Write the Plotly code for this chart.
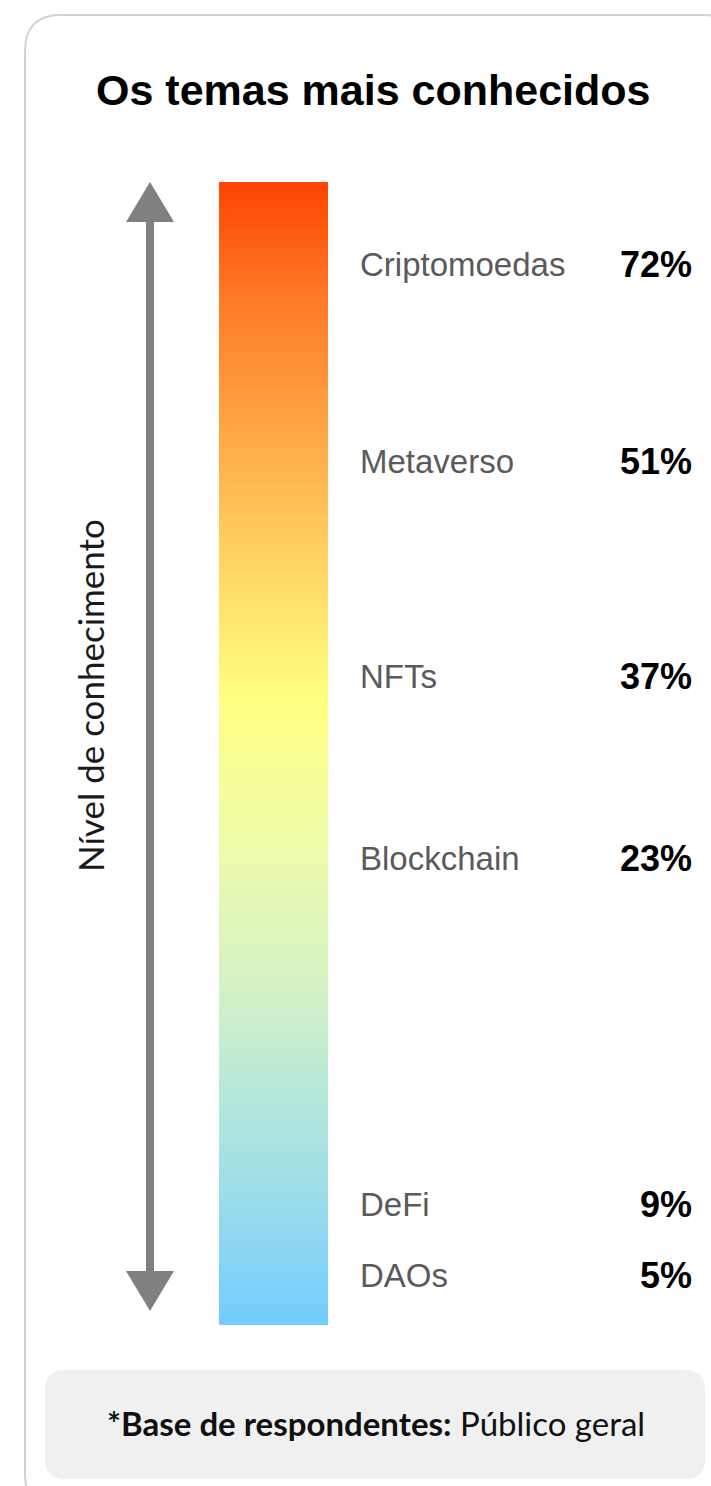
import numpy as np
import plotly.graph_objects as go

# Survey data: awareness of each topic
topics = ["Criptomoedas", "Metaverso", "NFTs", "Blockchain", "DeFi", "DAOs"]
shares = [72, 51, 37, 23, 9, 5]

# Vertical placement of each row (pixels from top)
row_y = [268, 465, 680, 862, 1208, 1279]

W, H = 711, 1486

# Gradient stops for the awareness bar (0 = bottom, 1 = top)
grad_stops = [
    [0.00, "#72CCFF"],
    [0.10, "#98DCEC"],
    [0.20, "#B6E8DA"],
    [0.30, "#D6F2C4"],
    [0.42, "#EEFCAA"],
    [0.55, "#FFFF80"],
    [0.68, "#FFD060"],
    [0.80, "#FFA040"],
    [0.90, "#FF7A25"],
    [1.00, "#FF4500"],
]

bar_x0, bar_x1, bar_y0, bar_y1 = 219, 328, 182, 1325
n = 300
edges = np.linspace(bar_y0, bar_y1, n + 1)
zcol = np.linspace(1, 0, n).reshape(n, 1)

fig = go.Figure()

fig.add_trace(go.Heatmap(
    x=[bar_x0, bar_x1], y=edges, z=zcol,
    colorscale=grad_stops, zmin=0, zmax=1,
    showscale=False, hoverinfo="skip",
))

fig.add_trace(go.Scatter(
    x=[360] * len(topics), y=row_y, text=topics,
    mode="text", textposition="middle right",
    textfont=dict(family="Liberation Sans, Arial, sans-serif", size=33, color="#5A5A5A"),
    hoverinfo="skip",
))

fig.add_trace(go.Scatter(
    x=[692] * len(shares), y=row_y, text=[f"{v}%" for v in shares],
    mode="text", textposition="middle left",
    textfont=dict(family="Liberation Sans, Arial, sans-serif", size=36, color="#000000", weight="bold"),
    hoverinfo="skip",
))


def rounded_rect(x0, y0, x1, y1, r):
    return (f"M {x0+r},{y0} L {x1-r},{y0} Q {x1},{y0} {x1},{y0+r} "
            f"L {x1},{y1-r} Q {x1},{y1} {x1-r},{y1} L {x0+r},{y1} "
            f"Q {x0},{y1} {x0},{y1-r} L {x0},{y0+r} Q {x0},{y0} {x0+r},{y0} Z")


shapes = [
    # card
    dict(type="path", path=rounded_rect(25, 15, 740, 1510, 36),
         line=dict(color="#D2D2D2", width=2), fillcolor="white", layer="below"),
    # footer box
    dict(type="path", path=rounded_rect(45, 1370, 705, 1479, 20),
         line=dict(width=0), fillcolor="#F0F0F0", layer="below"),
    # arrow shaft
    dict(type="rect", x0=146, x1=154, y0=215, y1=1278,
         line=dict(width=0), fillcolor="#808080"),
    # arrow heads
    dict(type="path", path="M 150,182 L 174,222 L 126,222 Z",
         line=dict(width=0), fillcolor="#808080"),
    dict(type="path", path="M 150,1311 L 174,1271 L 126,1271 Z",
         line=dict(width=0), fillcolor="#808080"),
]

annotations = [
    dict(x=373, y=90, text="<b>Os temas mais conhecidos</b>", showarrow=False,
         font=dict(family="Liberation Sans, Arial, sans-serif", size=43, color="#000000"),
         xanchor="center", yanchor="middle"),
    dict(x=90, y=696, text="Nível de conhecimento", showarrow=False, textangle=-90,
         font=dict(family="Lato, Open Sans, sans-serif", size=35, color="#1A1A1A"),
         xanchor="center", yanchor="middle"),
    dict(x=376, y=1423, text="<b>*Base de respondentes:</b> Público geral", showarrow=False,
         font=dict(family="Lato, Open Sans, sans-serif", size=33, color="#111111"),
         xanchor="center", yanchor="middle"),
]

fig.update_layout(
    width=W, height=H,
    margin=dict(l=0, r=0, t=0, b=0),
    paper_bgcolor="white", plot_bgcolor="rgba(0,0,0,0)",
    showlegend=False,
    xaxis=dict(range=[0, W], visible=False, fixedrange=True),
    yaxis=dict(range=[H, 0], visible=False, fixedrange=True),
    shapes=shapes, annotations=annotations,
)

fig.write_html("out.html", config={"displayModeBar": False})
